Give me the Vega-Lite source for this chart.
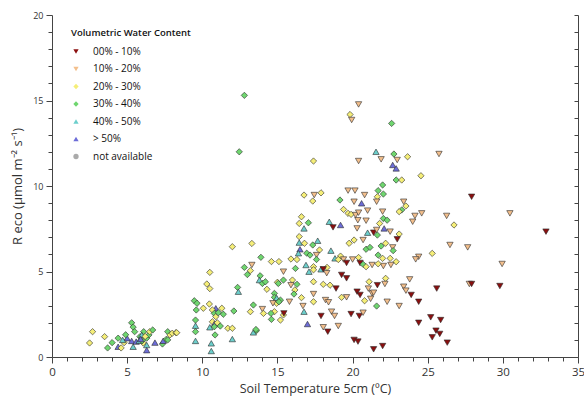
{
  "$schema": "https://vega.github.io/schema/vega-lite/v6.json",
  "width": 526,
  "height": 342,
  "autosize": {"type": "none"},
  "padding": {"left": 52, "top": 15, "right": 6, "bottom": 43},
  "config": {"view": {"stroke": null}, "font": "Open Sans", "legend": {"symbolStrokeWidth": 0.6, "symbolStrokeColor": "#333333"}},
  "datasets": {
    "pts": [
      {"t":2.7,"r":1.48,"v":"20% - 30%"},{"t":2.5,"r":0.82,"v":"20% - 30%"},{"t":3.5,"r":1.19,"v":"20% - 30%"},{"t":3.7,"r":0.53,"v":"30% - 40%"},{"t":4.0,"r":0.84,"v":"30% - 40%"},{"t":4.4,"r":1.1,"v":"30% - 40%"},{"t":4.4,"r":0.6,"v":"> 50%"},{"t":4.6,"r":0.53,"v":"20% - 30%"},{"t":4.8,"r":0.84,"v":"20% - 30%"},{"t":5.0,"r":1.1,"v":"> 50%"},{"t":5.3,"r":0.94,"v":"> 50%"},{"t":5.4,"r":0.6,"v":"40% - 50%"},{"t":5.3,"r":2.0,"v":"30% - 40%"},{"t":5.4,"r":1.75,"v":"30% - 40%"},{"t":5.5,"r":1.48,"v":"30% - 40%"},{"t":5.6,"r":0.9,"v":"> 50%"},{"t":5.85,"r":1.19,"v":"30% - 40%"},{"t":6.07,"r":0.82,"v":"20% - 30%"},{"t":6.1,"r":1.48,"v":"30% - 40%"},{"t":6.3,"r":1.1,"v":"30% - 40%"},{"t":6.3,"r":0.7,"v":"40% - 50%"},{"t":6.3,"r":0.4,"v":"> 50%"},{"t":6.45,"r":1.29,"v":"30% - 40%"},{"t":6.5,"r":1.48,"v":"20% - 30%"},{"t":6.7,"r":1.58,"v":"30% - 40%"},{"t":6.85,"r":0.84,"v":"> 50%"},{"t":7.35,"r":0.76,"v":"30% - 40%"},{"t":7.4,"r":0.95,"v":"> 50%"},{"t":7.6,"r":1.03,"v":"30% - 40%"},{"t":7.7,"r":1.48,"v":"30% - 40%"},{"t":7.85,"r":1.29,"v":"20% - 30%"},{"t":8.0,"r":1.39,"v":"20% - 30%"},{"t":8.25,"r":1.42,"v":"20% - 30%"},{"t":7.7,"r":1.0,"v":"30% - 40%"},{"t":5.97,"r":1.29,"v":"40% - 50%"},{"t":5.8,"r":0.95,"v":"40% - 50%"},{"t":6.0,"r":0.95,"v":"30% - 40%"},{"t":6.2,"r":1.2,"v":"20% - 30%"},{"t":5.9,"r":1.05,"v":"> 50%"},{"t":4.9,"r":1.3,"v":"30% - 40%"},{"t":4.7,"r":1.0,"v":"40% - 50%"},
      {"t":9.47,"r":3.29,"v":"30% - 40%"},{"t":9.65,"r":3.14,"v":"30% - 40%"},{"t":9.6,"r":2.75,"v":"30% - 40%"},{"t":10.07,"r":2.85,"v":"20% - 30%"},{"t":10.47,"r":3.1,"v":"20% - 30%"},{"t":10.9,"r":2.85,"v":"> 50%"},{"t":10.67,"r":2.75,"v":"20% - 30%"},{"t":10.8,"r":2.55,"v":"30% - 40%"},{"t":10.9,"r":2.36,"v":"20% - 30%"},{"t":11.07,"r":2.59,"v":"30% - 40%"},{"t":11.3,"r":2.85,"v":"20% - 30%"},{"t":11.4,"r":2.5,"v":"30% - 40%"},{"t":12.1,"r":2.69,"v":"30% - 40%"},{"t":10.67,"r":2.06,"v":"20% - 30%"},{"t":10.8,"r":1.93,"v":"> 50%"},{"t":10.8,"r":1.77,"v":"30% - 40%"},{"t":11.0,"r":2.0,"v":"20% - 30%"},{"t":11.2,"r":1.81,"v":"30% - 40%"},{"t":10.5,"r":1.74,"v":"40% - 50%"},{"t":10.85,"r":1.29,"v":"30% - 40%"},{"t":11.7,"r":1.68,"v":"20% - 30%"},{"t":12.0,"r":1.68,"v":"20% - 30%"},{"t":12.0,"r":1.05,"v":"40% - 50%"},{"t":10.6,"r":0.8,"v":"40% - 50%"},{"t":10.6,"r":0.35,"v":"40% - 50%"},{"t":13.4,"r":1.44,"v":"40% - 50%"},{"t":13.6,"r":1.54,"v":"30% - 40%"},{"t":9.55,"r":2.16,"v":"30% - 40%"},{"t":9.55,"r":1.83,"v":"40% - 50%"},{"t":9.55,"r":1.48,"v":"30% - 40%"},{"t":9.55,"r":0.94,"v":"40% - 50%"},{"t":8.3,"r":1.42,"v":"20% - 30%"},{"t":10.5,"r":4.95,"v":"20% - 30%"},{"t":10.3,"r":4.27,"v":"20% - 30%"},{"t":10.5,"r":4.0,"v":"20% - 30%"},{"t":12.35,"r":4.07,"v":"30% - 40%"},{"t":12.4,"r":3.82,"v":"40% - 50%"},
      {"t":12.0,"r":6.45,"v":"20% - 30%"},{"t":13.3,"r":6.64,"v":"20% - 30%"},{"t":13.9,"r":5.83,"v":"30% - 40%"},{"t":14.6,"r":5.58,"v":"20% - 30%"},{"t":15.1,"r":5.58,"v":"20% - 30%"},{"t":12.8,"r":5.24,"v":"30% - 40%"},{"t":13.2,"r":5.05,"v":"20% - 30%"},{"t":13.0,"r":4.82,"v":"30% - 40%"},{"t":13.3,"r":5.38,"v":"10% - 20%"},{"t":13.85,"r":4.75,"v":"30% - 40%"},{"t":13.8,"r":4.5,"v":"40% - 50%"},{"t":14.0,"r":4.3,"v":"30% - 40%"},{"t":14.2,"r":4.4,"v":"30% - 40%"},{"t":15.0,"r":4.37,"v":"20% - 30%"},{"t":15.06,"r":4.3,"v":"30% - 40%"},{"t":15.4,"r":4.5,"v":"30% - 40%"},{"t":14.8,"r":3.72,"v":"30% - 40%"},{"t":14.8,"r":3.49,"v":"30% - 40%"},{"t":14.95,"r":3.14,"v":"20% - 30%"},{"t":14.95,"r":3.45,"v":"40% - 50%"},{"t":15.2,"r":3.33,"v":"30% - 40%"},{"t":14.8,"r":2.65,"v":"20% - 30%"},{"t":15.2,"r":2.16,"v":"20% - 30%"},{"t":15.4,"r":2.46,"v":"20% - 30%"},{"t":14.6,"r":2.2,"v":"30% - 40%"},{"t":14.3,"r":3.96,"v":"20% - 30%"},{"t":14.7,"r":3.14,"v":"10% - 20%"},{"t":14.0,"r":2.8,"v":"10% - 20%"},{"t":14.07,"r":2.55,"v":"20% - 30%"},{"t":15.1,"r":3.23,"v":"30% - 40%"},{"t":15.8,"r":3.23,"v":"10% - 20%"},{"t":13.4,"r":3.04,"v":"30% - 40%"},{"t":13.2,"r":2.65,"v":"20% - 30%"},{"t":13.57,"r":1.61,"v":"30% - 40%"},{"t":15.9,"r":5.73,"v":"20% - 30%"},{"t":16.0,"r":4.5,"v":"20% - 30%"},{"t":15.9,"r":4.2,"v":"10% - 20%"},{"t":16.3,"r":4.25,"v":"30% - 40%"},{"t":14.57,"r":2.55,"v":"30% - 40%"},{"t":15.4,"r":4.99,"v":"10% - 20%"},
      {"t":16.77,"r":9.47,"v":"20% - 30%"},{"t":17.45,"r":9.47,"v":"10% - 20%"},{"t":17.9,"r":9.6,"v":"20% - 30%"},{"t":17.35,"r":9.12,"v":"20% - 30%"},{"t":19.16,"r":9.18,"v":"30% - 40%"},{"t":19.7,"r":9.73,"v":"10% - 20%"},{"t":20.16,"r":9.73,"v":"10% - 20%"},{"t":20.1,"r":9.08,"v":"10% - 20%"},{"t":20.8,"r":9.47,"v":"10% - 20%"},{"t":20.6,"r":8.99,"v":"> 50%"},{"t":19.4,"r":8.63,"v":"20% - 30%"},{"t":19.7,"r":8.4,"v":"20% - 30%"},{"t":19.9,"r":8.34,"v":"20% - 30%"},{"t":20.2,"r":8.3,"v":"10% - 20%"},{"t":20.4,"r":8.44,"v":"10% - 20%"},{"t":21.0,"r":8.56,"v":"10% - 20%"},{"t":20.35,"r":8.0,"v":"10% - 20%"},{"t":20.9,"r":7.97,"v":"10% - 20%"},{"t":16.6,"r":8.2,"v":"20% - 30%"},{"t":17.06,"r":7.85,"v":"30% - 40%"},{"t":16.45,"r":7.81,"v":"20% - 30%"},{"t":18.45,"r":7.91,"v":"40% - 50%"},{"t":18.7,"r":7.58,"v":"00% - 10%"},{"t":19.2,"r":7.72,"v":"> 50%"},{"t":16.77,"r":7.52,"v":"40% - 50%"},{"t":20.3,"r":7.52,"v":"10% - 20%"},{"t":21.0,"r":7.27,"v":"40% - 50%"},{"t":21.4,"r":7.27,"v":"00% - 10%"},{"t":16.45,"r":7.04,"v":"20% - 30%"},{"t":16.45,"r":6.69,"v":"40% - 50%"},{"t":16.8,"r":6.65,"v":"20% - 30%"},{"t":17.68,"r":6.8,"v":"40% - 50%"},{"t":17.8,"r":6.26,"v":"20% - 30%"},{"t":17.35,"r":6.55,"v":"30% - 40%"},{"t":19.77,"r":6.65,"v":"20% - 30%"},{"t":20.1,"r":6.84,"v":"20% - 30%"},{"t":20.7,"r":6.84,"v":"10% - 20%"},{"t":20.9,"r":6.3,"v":"30% - 40%"},{"t":21.16,"r":6.41,"v":"30% - 40%"},{"t":18.56,"r":6.22,"v":"40% - 50%"},{"t":16.5,"r":6.3,"v":"> 50%"},{"t":16.4,"r":6.07,"v":"40% - 50%"},{"t":16.95,"r":6.07,"v":"30% - 40%"},{"t":17.17,"r":5.96,"v":"30% - 40%"},{"t":16.3,"r":5.7,"v":"20% - 30%"},{"t":17.6,"r":5.96,"v":"10% - 20%"},{"t":17.6,"r":5.7,"v":"30% - 40%"},{"t":18.83,"r":5.77,"v":"40% - 50%"},{"t":19.2,"r":5.9,"v":"20% - 30%"},{"t":19.05,"r":5.7,"v":"20% - 30%"},{"t":19.4,"r":5.7,"v":"10% - 20%"},{"t":19.6,"r":5.5,"v":"00% - 10%"},{"t":20.0,"r":5.7,"v":"10% - 20%"},{"t":20.4,"r":5.82,"v":"20% - 30%"},{"t":20.5,"r":5.5,"v":"00% - 10%"},{"t":20.7,"r":5.42,"v":"30% - 40%"},{"t":20.9,"r":5.28,"v":"20% - 30%"},{"t":21.3,"r":5.38,"v":"10% - 20%"},{"t":21.7,"r":5.96,"v":"30% - 40%"},{"t":16.2,"r":5.18,"v":"30% - 40%"},{"t":16.9,"r":5.38,"v":"40% - 50%"},{"t":17.4,"r":5.28,"v":"20% - 30%"},{"t":17.1,"r":4.99,"v":"40% - 50%"},{"t":17.4,"r":5.1,"v":"20% - 30%"},{"t":17.9,"r":5.13,"v":"40% - 50%"},{"t":18.3,"r":5.24,"v":"20% - 30%"},{"t":18.05,"r":5.13,"v":"00% - 10%"},{"t":18.28,"r":4.9,"v":"10% - 20%"},{"t":16.16,"r":3.92,"v":"20% - 30%"},{"t":16.1,"r":3.68,"v":"30% - 40%"},{"t":17.4,"r":4.4,"v":"20% - 30%"},{"t":18.05,"r":4.25,"v":"20% - 30%"},{"t":18.5,"r":4.2,"v":"20% - 30%"},{"t":18.9,"r":4.0,"v":"00% - 10%"},{"t":19.27,"r":4.8,"v":"00% - 10%"},{"t":19.6,"r":4.6,"v":"00% - 10%"},{"t":20.3,"r":3.82,"v":"00% - 10%"},{"t":20.5,"r":3.63,"v":"00% - 10%"},{"t":21.05,"r":4.0,"v":"10% - 20%"},{"t":21.1,"r":4.4,"v":"20% - 30%"},{"t":21.3,"r":3.72,"v":"10% - 20%"},{"t":21.65,"r":4.2,"v":"00% - 10%"},{"t":19.27,"r":3.49,"v":"20% - 30%"},{"t":19.6,"r":3.49,"v":"10% - 20%"},{"t":20.8,"r":3.29,"v":"20% - 30%"},{"t":17.4,"r":3.68,"v":"10% - 20%"},{"t":16.6,"r":3.47,"v":"20% - 30%"},{"t":16.7,"r":2.98,"v":"10% - 20%"},{"t":16.77,"r":2.65,"v":"40% - 50%"},{"t":18.2,"r":3.33,"v":"10% - 20%"},{"t":17.4,"r":3.23,"v":"20% - 30%"},{"t":18.4,"r":3.2,"v":"10% - 20%"},{"t":17.9,"r":2.4,"v":"00% - 10%"},{"t":18.6,"r":2.65,"v":"10% - 20%"},{"t":18.8,"r":2.4,"v":"10% - 20%"},{"t":19.9,"r":2.51,"v":"00% - 10%"},{"t":20.45,"r":2.4,"v":"00% - 10%"},{"t":20.7,"r":2.59,"v":"10% - 20%"},{"t":15.43,"r":2.55,"v":"00% - 10%"},{"t":17.0,"r":1.93,"v":"> 50%"},{"t":18.05,"r":1.74,"v":"10% - 20%"},{"t":18.35,"r":1.48,"v":"00% - 10%"},{"t":19.05,"r":1.81,"v":"10% - 20%"},{"t":20.1,"r":1.0,"v":"00% - 10%"},{"t":20.36,"r":0.9,"v":"00% - 10%"},{"t":21.4,"r":0.45,"v":"00% - 10%"},{"t":21.6,"r":2.98,"v":"30% - 40%"},
      {"t":21.56,"r":12.0,"v":"40% - 50%"},{"t":22.75,"r":11.87,"v":"30% - 40%"},{"t":23.66,"r":11.71,"v":"20% - 30%"},{"t":21.9,"r":11.56,"v":"10% - 20%"},{"t":22.97,"r":11.52,"v":"10% - 20%"},{"t":25.75,"r":11.87,"v":"10% - 20%"},{"t":22.67,"r":11.23,"v":"> 50%"},{"t":22.9,"r":11.03,"v":"> 50%"},{"t":24.55,"r":10.6,"v":"20% - 30%"},{"t":22.9,"r":10.35,"v":"30% - 40%"},{"t":23.27,"r":10.35,"v":"20% - 30%"},{"t":27.92,"r":9.37,"v":"00% - 10%"},{"t":22.0,"r":10.06,"v":"30% - 40%"},{"t":21.7,"r":9.73,"v":"30% - 40%"},{"t":22.05,"r":9.53,"v":"30% - 40%"},{"t":21.65,"r":9.37,"v":"20% - 30%"},{"t":21.6,"r":9.08,"v":"10% - 20%"},{"t":23.4,"r":9.08,"v":"10% - 20%"},{"t":23.55,"r":8.83,"v":"20% - 30%"},{"t":23.27,"r":8.6,"v":"30% - 40%"},{"t":23.1,"r":8.5,"v":"20% - 30%"},{"t":22.0,"r":8.5,"v":"10% - 20%"},{"t":24.6,"r":8.4,"v":"10% - 20%"},{"t":24.15,"r":8.25,"v":"10% - 20%"},{"t":24.0,"r":7.91,"v":"10% - 20%"},{"t":26.26,"r":8.25,"v":"10% - 20%"},{"t":30.47,"r":8.4,"v":"10% - 20%"},{"t":26.75,"r":7.72,"v":"20% - 30%"},{"t":22.05,"r":8.1,"v":"30% - 40%"},{"t":22.3,"r":8.0,"v":"30% - 40%"},{"t":21.8,"r":7.81,"v":"20% - 30%"},{"t":21.6,"r":7.43,"v":"10% - 20%"},{"t":22.1,"r":7.52,"v":"> 50%"},{"t":22.5,"r":7.33,"v":"10% - 20%"},{"t":23.1,"r":7.19,"v":"20% - 30%"},{"t":22.97,"r":6.88,"v":"00% - 10%"},{"t":32.87,"r":7.33,"v":"00% - 10%"},{"t":21.65,"r":7.13,"v":"30% - 40%"},{"t":21.9,"r":6.49,"v":"30% - 40%"},{"t":22.2,"r":6.65,"v":"20% - 30%"},{"t":22.67,"r":6.41,"v":"10% - 20%"},{"t":22.7,"r":6.22,"v":"30% - 40%"},{"t":26.48,"r":6.55,"v":"10% - 20%"},{"t":27.66,"r":6.41,"v":"10% - 20%"},{"t":25.3,"r":6.06,"v":"20% - 30%"},{"t":24.4,"r":5.86,"v":"10% - 20%"},{"t":24.2,"r":5.71,"v":"10% - 20%"},{"t":29.95,"r":5.44,"v":"10% - 20%"},{"t":22.0,"r":5.77,"v":"20% - 30%"},{"t":22.5,"r":5.77,"v":"20% - 30%"},{"t":22.9,"r":5.57,"v":"20% - 30%"},{"t":22.55,"r":5.38,"v":"10% - 20%"},{"t":22.05,"r":5.32,"v":"10% - 20%"},{"t":21.7,"r":5.45,"v":"20% - 30%"},{"t":22.2,"r":4.6,"v":"20% - 30%"},{"t":22.15,"r":4.27,"v":"10% - 20%"},{"t":23.8,"r":4.54,"v":"10% - 20%"},{"t":23.4,"r":4.11,"v":"10% - 20%"},{"t":23.55,"r":3.88,"v":"10% - 20%"},{"t":23.9,"r":3.63,"v":"00% - 10%"},{"t":24.4,"r":3.23,"v":"00% - 10%"},{"t":25.6,"r":4.0,"v":"00% - 10%"},{"t":27.77,"r":4.27,"v":"10% - 20%"},{"t":27.92,"r":4.27,"v":"00% - 10%"},{"t":29.8,"r":4.15,"v":"00% - 10%"},{"t":21.4,"r":3.76,"v":"10% - 20%"},{"t":22.3,"r":3.23,"v":"10% - 20%"},{"t":23.1,"r":2.98,"v":"10% - 20%"},{"t":21.2,"r":3.4,"v":"10% - 20%"},{"t":25.2,"r":2.32,"v":"00% - 10%"},{"t":25.86,"r":2.16,"v":"00% - 10%"},{"t":24.4,"r":2.0,"v":"00% - 10%"},{"t":25.55,"r":1.54,"v":"00% - 10%"},{"t":25.8,"r":1.35,"v":"00% - 10%"},{"t":25.3,"r":1.15,"v":"00% - 10%"},{"t":26.3,"r":0.84,"v":"00% - 10%"},{"t":22.0,"r":0.64,"v":"00% - 10%"},
      {"t":12.8,"r":15.3,"v":"30% - 40%"},{"t":12.46,"r":12.0,"v":"30% - 40%"},{"t":20.4,"r":14.77,"v":"10% - 20%"},{"t":19.83,"r":14.18,"v":"20% - 30%"},{"t":19.94,"r":13.86,"v":"10% - 20%"},{"t":22.6,"r":13.66,"v":"30% - 40%"},{"t":17.4,"r":11.46,"v":"20% - 30%"},{"t":20.4,"r":11.46,"v":"10% - 20%"}
    ]
  },
  "data": {"name": "pts"},
  "layer": [
    {
      "mark": {"type": "point", "filled": true, "opacity": 1, "stroke": "#2a2a2a", "strokeWidth": 0.6, "size": 40},
      "encoding": {
        "x": {
          "field": "t", "type": "quantitative",
          "scale": {"domain": [0, 35], "nice": false, "zero": false},
          "axis": {
            "orient": "bottom",
            "values": [0,1,2,3,4,5,6,7,8,9,10,11,12,13,14,15,16,17,18,19,20,21,22,23,24,25,26,27,28,29,30,31,32,33,34,35],
            "labelExpr": "datum.value % 5 === 0 ? datum.label : ''",
            "tickSize": {"condition": {"test": "datum.value % 5 === 0", "value": 6}, "value": 4},
            "grid": false,
            "title": "Soil Temperature 5cm (ºC)",
            "titleFontSize": 12.5, "titleFontWeight": "normal", "titleColor": "#333", "titlePadding": 5,
            "labelFontSize": 11.5, "labelColor": "#333", "labelPadding": 3, "labelFlush": false,
            "domainColor": "#444", "tickColor": "#444"
          }
        },
        "y": {
          "field": "r", "type": "quantitative",
          "scale": {"domain": [0, 20], "nice": false, "zero": false},
          "axis": {
            "orient": "left",
            "values": [0,1,2,3,4,5,6,7,8,9,10,11,12,13,14,15,16,17,18,19,20],
            "labelExpr": "datum.value % 5 === 0 ? datum.label : ''",
            "tickSize": {"condition": {"test": "datum.value % 5 === 0", "value": 6}, "value": 4},
            "grid": false,
            "title": "R eco (μmol m⁻² s⁻¹)",
            "titleFontSize": 13, "titleFontWeight": "normal", "titleColor": "#333", "titlePadding": 8,
            "labelFontSize": 9, "labelColor": "#333", "labelPadding": 3, "labelFlush": false,
            "domainColor": "#444", "tickColor": "#444"
          }
        },
        "fill": {
          "field": "v", "type": "nominal",
          "scale": {
            "domain": ["00% - 10%", "10% - 20%", "20% - 30%", "30% - 40%", "40% - 50%", "> 50%", "not available"],
            "range": ["#8b0f0f", "#f3bf8c", "#f5ee78", "#6fd66f", "#6ccfcc", "#6d6dd8", "#aaaaaa"]
          },
          "legend": {
            "title": "Volumetric Water Content", "orient": "none", "legendX": 19, "legendY": 13,
            "titleFontSize": 9.5, "titleFontWeight": 600, "titleColor": "#111", "titlePadding": 9,
            "labelFontSize": 10, "labelColor": "#111", "labelOffset": 12,
            "symbolSize": 28, "rowPadding": 7.5, "symbolStrokeWidth": 0.6,
            "encode": {"symbols": {"update": {"stroke": {"value": "#333333"}}}}
          }
        },
        "shape": {
          "field": "v", "type": "nominal",
          "scale": {
            "domain": ["00% - 10%", "10% - 20%", "20% - 30%", "30% - 40%", "40% - 50%", "> 50%", "not available"],
            "range": ["triangle-down", "triangle-down", "diamond", "diamond", "triangle-up", "triangle-up", "circle"]
          },
          "legend": {
            "title": "Volumetric Water Content", "orient": "none", "legendX": 19, "legendY": 13,
            "titleFontSize": 9.5, "titleFontWeight": 600, "titleColor": "#111", "titlePadding": 9,
            "labelFontSize": 10, "labelColor": "#111", "labelOffset": 12,
            "symbolSize": 28, "rowPadding": 7.5, "symbolStrokeWidth": 0.6,
            "encode": {"symbols": {"update": {"stroke": {"value": "#333333"}}}}
          }
        }
      }
    },
    {
      "mark": {"type": "point", "opacity": 0},
      "encoding": {
        "x": {"field": "t", "type": "quantitative", "axis": null},
        "y": {
          "field": "r", "type": "quantitative",
          "axis": {
            "orient": "right",
            "values": [0,1,2,3,4,5,6,7,8,9,10,11,12,13,14,15,16,17,18,19,20],
            "labels": false, "title": null, "grid": false,
            "tickSize": -4, "domainColor": "#444", "tickColor": "#444"
          }
        }
      }
    }
  ],
  "resolve": {"axis": {"x": "independent", "y": "independent"}}
}
